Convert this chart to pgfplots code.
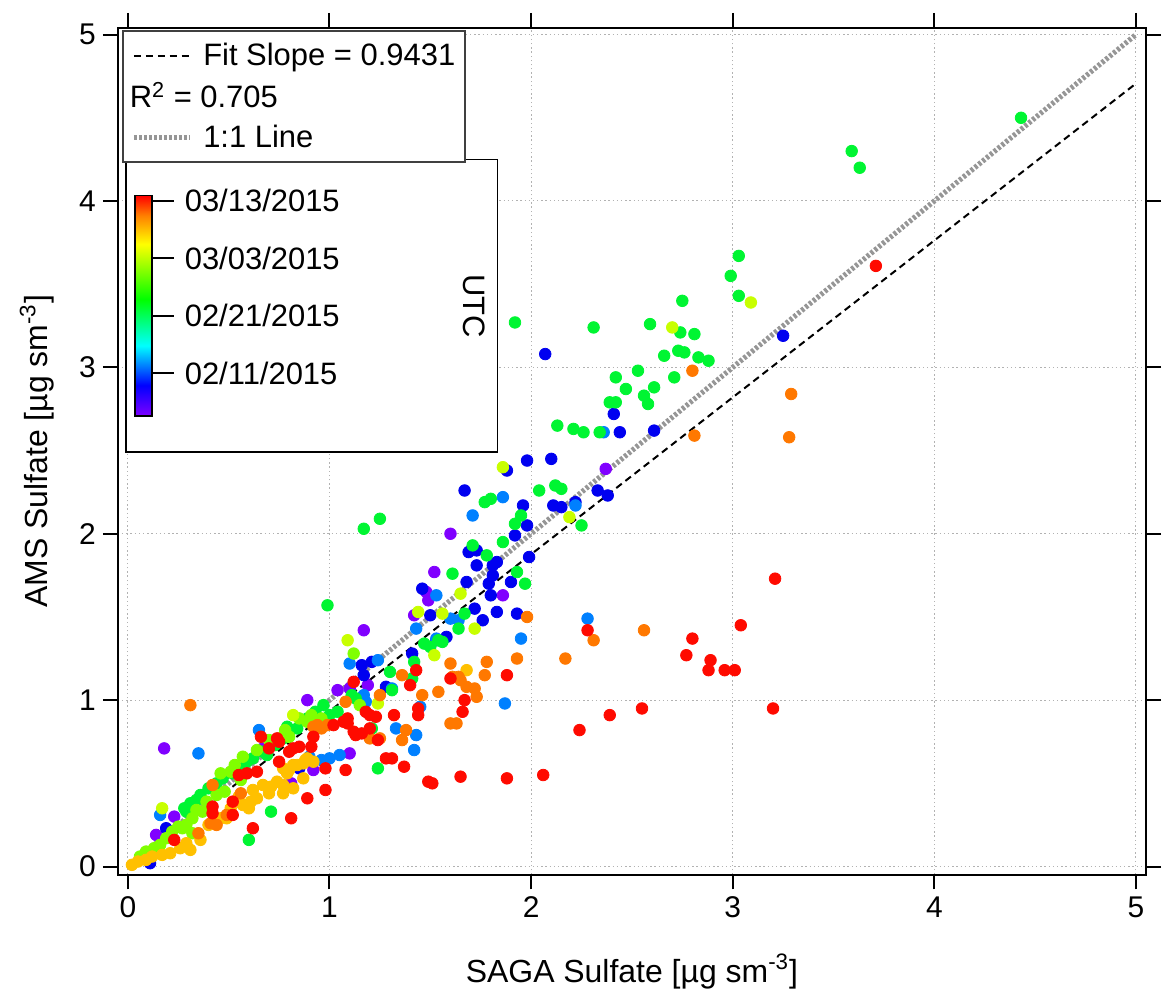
\documentclass[border=0pt]{standalone}
\usepackage{fontspec}
\setmainfont{Liberation Sans}
\usepackage{pgfplots}
\pgfplotsset{compat=1.18}
\newcommand\tickfont{\fontsize{15}{18}\selectfont}
\newcommand\legfont{\fontsize{15.5}{18.6}\selectfont}
\newcommand\labfont{\fontsize{16}{19.2}\selectfont}
\definecolor{cP}{RGB}{128,0,255}
\definecolor{cB}{RGB}{0,0,240}
\definecolor{cL}{RGB}{0,128,255}
\definecolor{cG}{RGB}{0,245,50}
\definecolor{cYG}{RGB}{128,255,0}
\definecolor{cYY}{RGB}{200,255,0}
\definecolor{cYO}{RGB}{255,192,0}
\definecolor{cO}{RGB}{255,120,0}
\definecolor{cR}{RGB}{255,10,0}
\definecolor{oneone}{RGB}{150,150,150}
\pgfplotsset{dot/.style={only marks, mark=*, mark size=2.9pt, color=#1, forget plot}}
\begin{document}
\begin{tikzpicture}
\begin{axis}[
  scale only axis, width=515pt, height=424pt,
  xmin=-0.05, xmax=5.05, ymin=-0.048, ymax=5.04,
  xtick={0,1,2,3,4,5}, ytick={0,1,2,3,4,5},
  tick align=outside, major tick length=7.5pt,
  every tick/.style={black, line width=1pt},
  axis line style={black, line width=1pt},
  grid=major,
  major grid style={color=black!30, line width=0.5pt, dash pattern=on 0.7pt off 1.4pt},
  /pgf/number format/assume math mode=true,
  ticklabel style={font=\tickfont},
  xlabel={SAGA Sulfate [µg sm\textsuperscript{-3}]},
  ylabel={AMS Sulfate [µg sm\textsuperscript{-3}]},
  every axis x label/.style={at={(axis description cs:0.5,-0.127)}, anchor=base, font=\labfont},
  every axis y label/.style={at={(axis description cs:-0.068,0.5)}, anchor=base, rotate=90, font=\labfont},
  colormap={igor}{rgb255(0cm)=(128,0,255) rgb255(14cm)=(0,0,255) rgb255(32cm)=(0,255,255) rgb255(53cm)=(0,255,0) rgb255(78cm)=(255,255,0) rgb255(91cm)=(255,128,0) rgb255(100cm)=(255,0,0)},
  point meta min=-7.45, point meta max=30.87,
  colorbar,
  colorbar style={
    at={(parent axis.north west)}, anchor=north west,
    xshift=0pt, yshift=-84pt,
    width=8.5pt, height=110.5pt,
    grid=none,
    ytick={0,10,20,30},
    yticklabels={02/11/2015,02/21/2015,03/03/2015,03/13/2015},
    ytick pos=right, yticklabel pos=right,
    tick align=outside, major tick length=11pt,
    every tick/.style={black, line width=1pt},
    axis line style={black, line width=0.8pt},
    yticklabel style={font=\legfont, xshift=2pt},
  },
  legend style={at={(0.0039,0.9976)}, anchor=north west, draw=black!75, line width=1pt, fill=white, font=\legfont, row sep=5pt, inner ysep=4pt, cells={anchor=west}, /tikz/every odd column/.append style={column sep=3.5pt}},
  legend image code/.code={\draw[#1] (0pt,0pt) -- (28pt,0pt);},
]
\addlegendimage{black, line width=1pt, dash pattern=on 3.5pt off 2.5pt}
\addlegendentry{Fit Slope = 0.9431}
\addlegendimage{legend image code/.code={\node[anchor=west, inner sep=0pt, font=\legfont] at (-3pt,0pt) {\rlap{R\textsuperscript{2} = 0.705}};}}
\addlegendentry{}
\addlegendimage{oneone, line width=2.6pt, dash pattern=on 1.5pt off 1pt}
\addlegendentry{1:1 Line}

% purple
\addplot[dot=cP] table {
x y
0.18 0.71
0.23 0.30
0.14 0.19
0.81 0.50
0.67 0.71
0.92 0.58
0.89 1.00
1.04 1.06
1.10 0.68
1.19 1.09
1.17 1.42
1.42 1.51
1.48 1.65
1.49 1.60
1.52 1.77
1.60 2.00
1.86 1.63
2.37 2.39
1.10 1.07
0.07 0.05
};
% blue
\addplot[dot=cB] table {
x y
0.11 0.02
0.19 0.23
0.85 0.59
1.16 1.21
1.21 1.23
1.28 1.08
1.17 1.15
1.41 1.28
1.58 1.38
1.53 1.36
1.46 1.67
1.50 1.51
1.68 1.71
1.69 1.89
1.73 1.90
1.73 1.81
1.81 1.81
1.83 1.83
1.81 1.75
1.79 1.70
1.90 1.71
1.72 1.55
1.83 1.53
1.93 1.52
1.80 1.63
1.76 1.48
1.67 2.26
1.98 2.44
2.10 2.45
1.88 2.38
1.96 2.17
2.11 2.17
2.15 2.16
2.22 2.19
1.98 2.05
1.92 1.99
1.99 1.86
2.33 2.26
2.38 2.23
2.44 2.61
2.41 2.72
2.61 2.62
3.25 3.19
2.07 3.08
};
% light blue
\addplot[dot=cL] table {
x y
0.16 0.31
0.35 0.68
0.65 0.82
0.90 0.66
0.96 0.64
1.00 0.65
1.05 0.67
1.10 1.22
1.24 1.24
1.17 1.03
1.31 1.07
1.33 0.83
1.42 0.70
1.43 0.79
1.45 0.96
1.43 1.43
1.53 1.37
1.53 1.63
1.60 1.49
1.64 1.48
1.87 0.98
1.95 1.37
2.28 1.49
1.86 2.22
1.71 2.11
2.22 2.17
2.36 2.61
1.18 0.99
};
% green
\addplot[dot=cG] table {
x y
4.43 4.50
3.59 4.30
3.63 4.20
3.03 3.67
2.99 3.55
3.03 3.43
2.75 3.40
2.59 3.26
2.74 3.21
2.81 3.20
2.66 3.07
2.73 3.10
2.76 3.09
2.83 3.06
2.88 3.04
2.53 2.98
2.42 2.94
2.71 2.94
2.47 2.87
2.61 2.88
2.56 2.83
2.58 2.78
2.39 2.79
2.42 2.79
2.34 2.61
2.31 3.24
1.92 3.27
2.13 2.65
2.21 2.63
2.26 2.61
2.04 2.26
2.12 2.29
2.15 2.27
1.77 2.19
1.80 2.21
2.25 2.05
1.95 2.11
1.92 2.06
1.86 1.95
1.71 1.93
1.78 1.87
1.61 1.76
1.93 1.77
1.97 1.70
1.67 1.52
1.64 1.43
1.47 1.34
1.50 1.32
1.54 1.36
1.56 1.35
1.42 1.23
1.41 1.13
1.30 1.17
1.31 1.06
1.21 0.83
1.11 1.03
1.13 1.01
0.99 1.57
1.17 2.03
1.25 2.09
1.24 0.59
0.60 0.16
0.71 0.33
0.97 0.97
1.00 0.91
1.04 0.93
0.73 0.73
0.77 0.77
0.80 0.81
0.84 0.83
0.89 0.89
0.93 0.93
0.67 0.69
0.69 0.67
0.59 0.63
0.62 0.65
0.55 0.59
0.52 0.56
0.47 0.53
0.44 0.50
0.40 0.47
0.36 0.43
0.34 0.40
0.31 0.38
0.28 0.35
0.29 0.33
0.79 0.84
};
% yellow-green
\addplot[dot=cYG] table {
x y
1.12 1.28
1.15 0.97
0.85 0.89
0.89 0.87
0.94 0.87
0.96 0.89
0.91 0.91
0.78 0.82
0.80 0.78
0.75 0.77
0.53 0.61
0.51 0.57
0.46 0.56
0.44 0.43
0.39 0.39
0.37 0.33
0.34 0.34
0.32 0.29
0.27 0.23
0.22 0.21
0.19 0.17
0.16 0.13
0.13 0.11
0.09 0.09
0.06 0.06
0.25 0.24
0.29 0.25
0.32 0.20
0.57 0.66
0.64 0.70
0.70 0.76
0.48 0.45
0.56 0.52
};
% lime
\addplot[dot=cYY] table {
x y
3.09 3.39
2.70 3.24
1.86 2.40
2.19 2.10
1.65 1.64
1.56 1.52
1.44 1.53
1.72 1.43
1.52 1.27
1.09 1.36
0.17 0.35
0.82 0.91
1.24 0.98
};
% yellow-orange
\addplot[dot=cYO] table {
x y
0.02 0.01
0.05 0.03
0.09 0.04
0.12 0.06
0.17 0.07
0.21 0.08
0.26 0.11
0.31 0.10
0.29 0.14
0.36 0.16
0.46 0.29
0.49 0.29
0.51 0.35
0.57 0.37
0.60 0.35
0.61 0.39
0.64 0.41
0.62 0.46
0.70 0.44
0.67 0.49
0.71 0.48
0.74 0.51
0.77 0.49
0.77 0.44
0.82 0.47
0.87 0.53
0.77 0.59
0.79 0.56
0.82 0.61
0.88 0.64
0.92 0.63
0.89 0.65
0.87 0.62
0.84 0.61
0.80 0.58
1.68 1.18
0.40 0.25
0.55 0.42
};
% orange
\addplot[dot=cO] table {
x y
0.31 0.97
0.35 0.20
0.41 0.26
0.44 0.25
0.42 0.49
0.49 0.31
0.56 0.44
0.92 0.84
0.94 0.85
0.99 0.85
0.96 0.83
1.08 0.99
1.20 0.77
1.25 0.77
1.25 1.03
1.36 1.15
1.36 0.76
1.38 0.82
1.46 1.03
1.54 1.05
1.60 1.22
1.60 0.86
1.63 0.86
1.61 1.14
1.64 1.14
1.65 1.12
1.68 1.08
1.72 1.07
1.73 1.02
1.78 1.23
1.77 1.15
1.93 1.25
1.98 1.50
2.17 1.25
2.31 1.36
2.56 1.42
2.80 2.98
2.81 2.59
3.29 2.84
3.28 2.58
};
% red
\addplot[dot=cR] table {
x y
0.23 0.16
0.62 0.23
0.81 0.29
0.89 0.41
0.98 0.46
0.52 0.31
0.52 0.39
0.42 0.32
0.42 0.36
0.55 0.55
0.59 0.56
0.64 0.57
0.75 0.63
0.80 0.69
0.82 0.71
0.85 0.72
0.91 0.72
0.92 0.78
0.66 0.78
0.74 0.77
0.70 0.71
0.75 0.75
1.02 0.85
1.07 0.87
1.09 0.89
1.09 0.86
1.12 0.81
1.13 0.79
1.16 0.80
1.20 0.83
1.23 0.90
1.20 0.91
1.18 0.93
1.12 1.11
1.24 0.76
1.32 0.91
1.28 0.65
1.31 0.65
1.37 0.60
1.08 0.58
0.98 0.59
1.49 0.51
1.51 0.50
1.65 0.54
1.88 0.53
2.06 0.55
2.24 0.82
2.39 0.91
2.55 0.95
3.20 0.95
1.44 0.95
1.44 0.91
1.40 1.09
1.43 1.18
1.60 1.13
1.67 1.00
1.66 0.93
1.88 1.15
2.28 1.42
2.77 1.27
2.80 1.37
2.89 1.24
2.88 1.18
2.96 1.18
3.01 1.18
3.04 1.45
3.21 1.73
3.71 3.61
};
% lines
\addplot[oneone, line width=2.6pt, dash pattern=on 1.5pt off 1pt, forget plot] coordinates {(0,0) (5,5)};
\addplot[black, line width=1pt, dash pattern=on 3.5pt off 2.3pt, forget plot] coordinates {(0.02,0.009) (5,4.706)};
% colour-scale box
\draw[black, line width=0.8pt, fill=white] (axis cs:-0.0099,2.491) rectangle (axis cs:1.8335,4.250);
\node[rotate=-90, font=\legfont] at (axis cs:1.7195,3.367) {UTC};
\coordinate (SW) at (rel axis cs:0,0);
\coordinate (NE) at (rel axis cs:1,1);
\end{axis}
\path (SW) ++(-59pt,-58.5pt);
\path (NE) ++(7pt,14pt);
\end{tikzpicture}
\end{document}
